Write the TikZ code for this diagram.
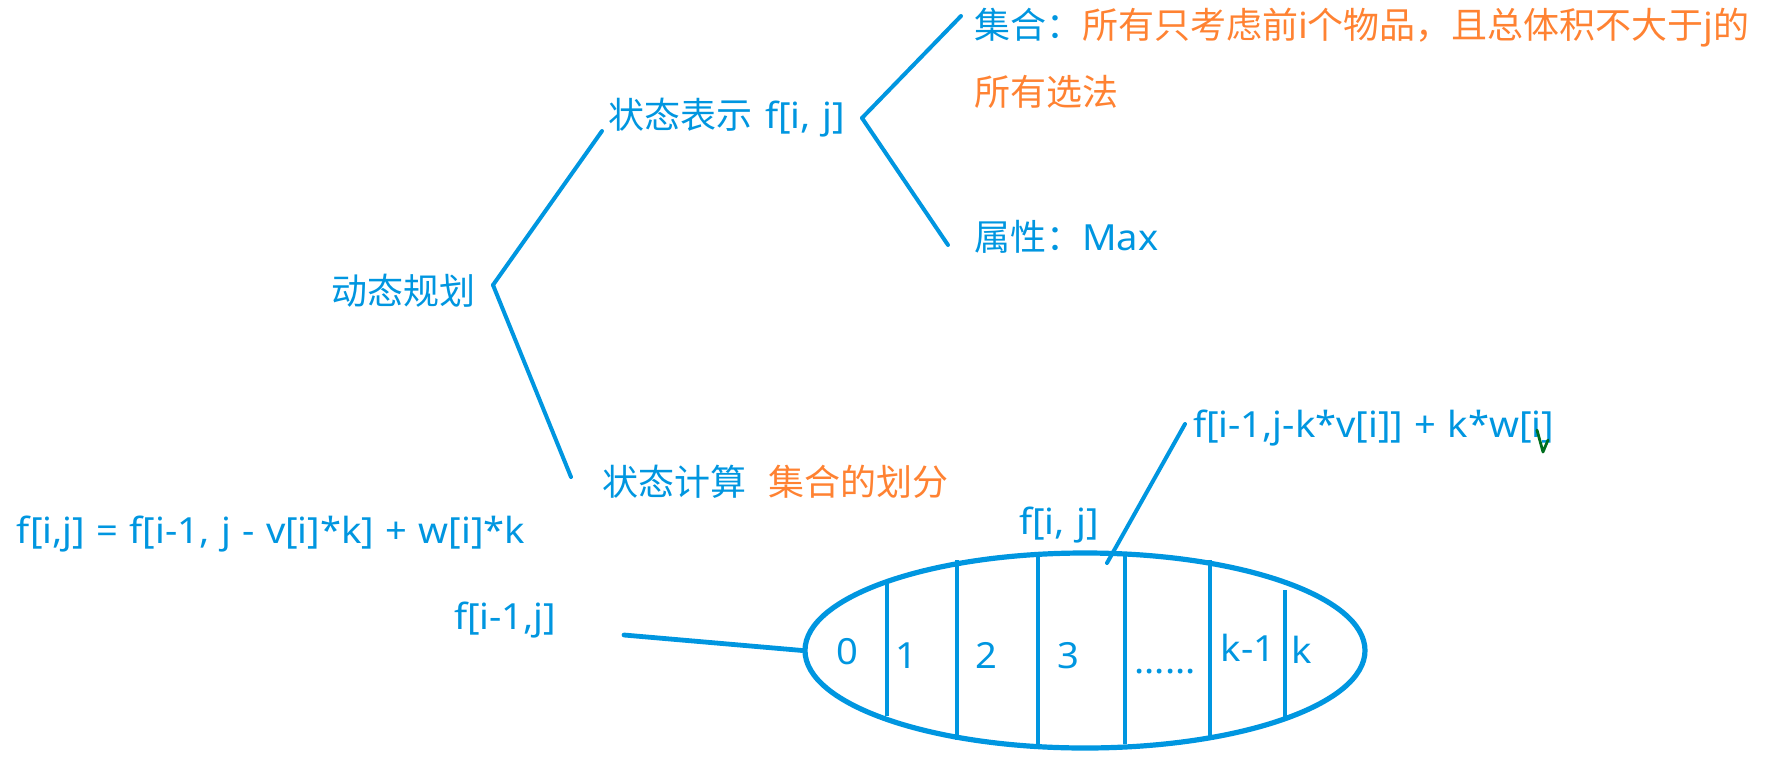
\documentclass[tikz,border=0pt]{standalone}
\usepackage{fontspec}
\setmainfont{Noto Sans}[FakeStretch=1.06,WordSpace=1.15]
\newfontfamily\cjk{Noto Sans CJK SC}
\usetikzlibrary{shapes.geometric}
\definecolor{cblue}{RGB}{0,150,224}
\definecolor{corange}{RGB}{255,130,50}
\definecolor{cgreen}{RGB}{0,110,30}
\begin{document}
\begin{tikzpicture}[x=0.5pt,y=-0.5pt,
  lbl/.style={anchor=west,inner sep=0pt,outer sep=0pt,text=cblue,font=\fontsize{18}{22}\selectfont},
  num/.style={anchor=base,inner sep=0pt,outer sep=0pt,text=cblue,font=\fontsize{18}{22}\selectfont},
  ln/.style={draw=cblue,line width=2pt,line cap=round},
  part/.style={draw=cblue,line width=1.8pt}]
\useasboundingbox (0,0) rectangle (1790,772);

% texts
\node[lbl] (root) at (331,291) {\cjk 动态规划};
\node[lbl] (rep) at (608,118) {{\cjk 状态表示}\hspace{6.5pt}f[i, j]};
\node[lbl] (setdef) at (974,28) {{\cjk 集合：}\textcolor{corange}{{\cjk 所有只考虑前}i{\cjk 个物品，且总体积不大于}j{\cjk 的}}};
\node[lbl,text=corange] (setdef2) at (974,92) {\cjk 所有选法};
\node[lbl] (attr) at (974,237) {{\cjk 属性：}Max};
\node[lbl] (calc) at (602,482) {{\cjk 状态计算}\hspace{11pt}\textcolor{corange}{\cjk 集合的划分}};
\node[lbl] (formula) at (17,534) {f[i,j] = f[i-1, j - v[i]*k] + w[i]*k};
\node[lbl] (fprev) at (454,620) {f[i-1,j]};
\node[lbl] (fij) at (1019,525) {f[i, j]};
\node[lbl] (fk) at (1193,428) {f[i-1,j-k*v[i]] + k*w[i]};

% tree connectors
\coordinate (rootR) at (493,285);
\coordinate (repL) at (602,131);
\coordinate (calcL) at (571,477);
\coordinate (repR) at (862,118);
\coordinate (setL) at (961,16);
\coordinate (attrL) at (948,245);
\draw[ln] (rootR) -- (repL);
\draw[ln] (rootR) -- (calcL);
\draw[ln] (repR) -- (setL);
\draw[ln] (repR) -- (attrL);

% the set ellipse
\node[draw=cblue,line width=2.6pt,ellipse,minimum width=280pt,minimum height=97.5pt,inner sep=0pt] (set) at (1085,650.5) {};
\draw[part] (887,583) -- (887,716);
\draw[part] (957,560) -- (957,740);
\draw[part] (1038,555) -- (1038,744);
\draw[part] (1125,554) -- (1125,744);
\draw[part] (1210,560) -- (1210,736);
\draw[part] (1285,590) -- (1285,720);

\node[num] (p0) at (847,664) {0};
\node[num] (p1) at (906,668) {1};
\node[num] (p2) at (986,668) {2};
\node[num] (p3) at (1068,668) {3};
\node[num] (pd) at (1165,673) {......};
\node[num] (pk1) at (1248,661) {k-1};
\node[num] (pk) at (1302,663) {k};

% connectors to the set
\coordinate (fprevR) at (624,635);
\draw[ln,line width=2.4pt] (fprevR) -- (set.west);
\coordinate (fkL) at (1185,424);
\coordinate (setTop) at (1107,563);
\draw[ln] (setTop) -- (fkL);

% green mark
\draw[cgreen,line width=1.4pt,line cap=round,line join=round] (1537,430) -- (1543,452) -- (1548,440);
\end{tikzpicture}
\end{document}
